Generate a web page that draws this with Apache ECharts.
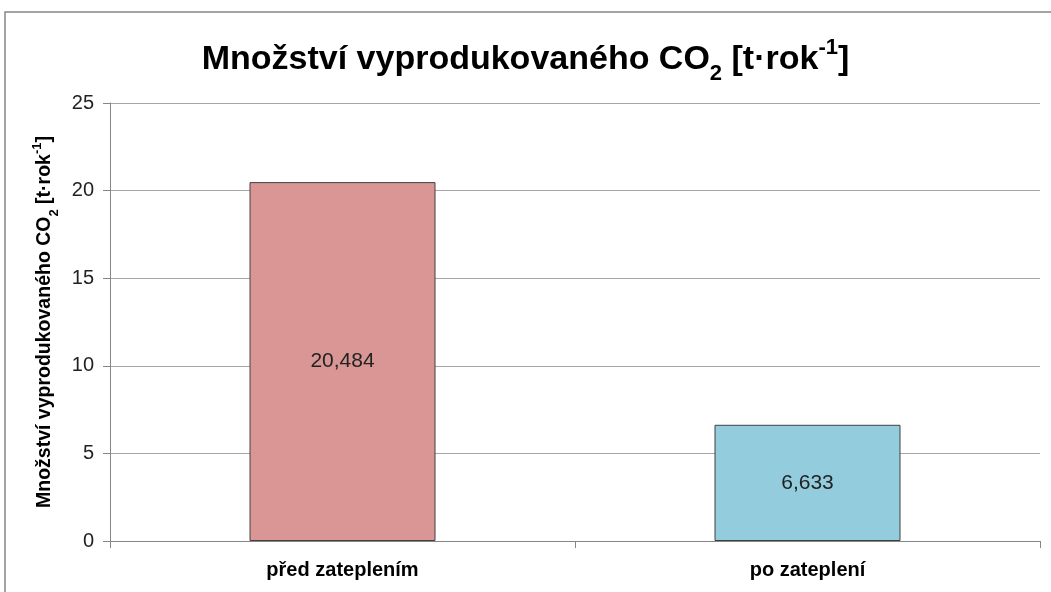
<!DOCTYPE html>
<html>
<head>
<meta charset="utf-8">
<script src="https://cdn.jsdelivr.net/npm/echarts@6/dist/echarts.min.js"></script>
<style>
  html, body { margin: 0; padding: 0; background: #fff; }
  #chart { width: 1051px; height: 592px; }
</style>
</head>
<body>
<div id="chart"></div>
<script>
// data
const categories = ['před zateplením', 'po zateplení'];
const values = [20.484, 6.633];
const barColors = ['#D99694', '#93CDDD'];
const yTicks = [0, 5, 10, 15, 20, 25];

const font = "'Liberation Sans', Arial, sans-serif";

const chart = echarts.init(document.getElementById('chart'));
chart.setOption({
  backgroundColor: '#fff',
  animation: false,
  graphic: [{
    type: 'rect',
    shape: { x: 5, y: 12, width: 1200, height: 800 },
    style: { fill: 'none', stroke: '#868686', lineWidth: 1.5 },
    silent: true
  }],
  title: {
    text: 'Množství vyprodukovaného CO{sub|2} [t·rok{sup|-1}]',
    left: 'center',
    top: 34,
    textStyle: {
      fontFamily: font,
      fontWeight: 'bold',
      fontSize: 34,
      color: '#000',
      lineHeight: 42,
      rich: {
        sub: { fontFamily: font, fontWeight: 'bold', fontSize: 22, color: '#000', verticalAlign: 'bottom', lineHeight: 42, padding: [0, 0, -4, 0] },
        sup: { fontFamily: font, fontWeight: 'bold', fontSize: 22, color: '#000', verticalAlign: 'top', lineHeight: 42, padding: [-2, 0, 0, 0] }
      }
    }
  },
  grid: { left: 110, right: 11, top: 103, bottom: 51, containLabel: false },
  xAxis: {
    type: 'category',
    data: categories,
    axisLine: { lineStyle: { color: '#868686', width: 1 } },
    axisTick: { show: true, length: 7, lineStyle: { color: '#868686' } },
    axisLabel: { fontFamily: font, fontWeight: 'bold', fontSize: 20, color: '#000', margin: 19 }
  },
  yAxis: {
    type: 'value',
    min: yTicks[0],
    max: yTicks[yTicks.length - 1],
    interval: 5,
    name: 'Množství vyprodukovaného CO{sub|2} [t·rok{sup|-1}]',
    nameLocation: 'middle',
    nameGap: 51,
    nameTextStyle: {
      fontFamily: font, fontWeight: 'bold', fontSize: 19.5, color: '#000', lineHeight: 24,
      rich: {
        sub: { fontFamily: font, fontWeight: 'bold', fontSize: 13, color: '#000', verticalAlign: 'bottom', lineHeight: 24, padding: [0, 0, -4, 0] },
        sup: { fontFamily: font, fontWeight: 'bold', fontSize: 13, color: '#000', verticalAlign: 'top', lineHeight: 24, padding: [-2, 0, 0, 0] }
      }
    },
    axisLine: { show: true, lineStyle: { color: '#868686', width: 1 } },
    axisTick: { show: true, inside: false, length: 7, lineStyle: { color: '#868686' } },
    axisLabel: { fontFamily: font, fontSize: 20, color: '#222', margin: 16 },
    splitLine: { show: true, lineStyle: { color: '#a6a6a6', width: 1 } }
  },
  series: [{
    type: 'bar',
    barWidth: '40%',
    data: values.map((v, i) => ({
      value: v,
      itemStyle: { color: barColors[i], borderColor: '#404040', borderWidth: 1 }
    })),
    label: {
      show: true,
      position: 'inside',
      fontFamily: font,
      fontSize: 21,
      color: '#222',
      formatter: p => p.value.toFixed(3).replace('.', ',')
    }
  }]
});
</script>
</body>
</html>
